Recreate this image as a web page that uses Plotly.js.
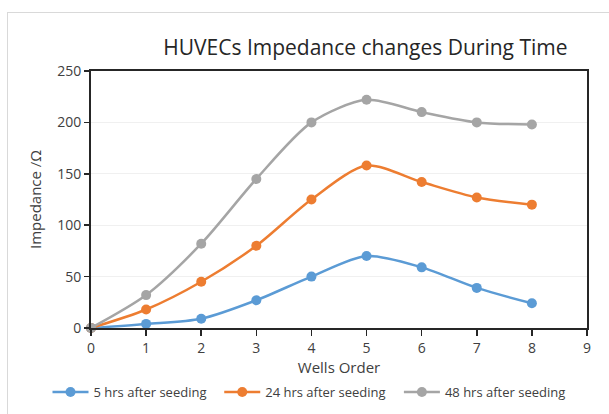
<!DOCTYPE html>
<html>
<head>
<meta charset="utf-8">
<script src="https://cdn.plot.ly/plotly-3.0.1.min.js"></script>
<style>
html,body{margin:0;padding:0;background:#fff;}
#frame{position:absolute;left:7px;top:12px;width:604px;height:410px;border:1px solid #d9d9d9;box-sizing:border-box;}
#chart{position:absolute;left:0;top:0;width:609px;height:414px;}
</style>
</head>
<body>
<div id="frame"></div>
<div id="chart"></div>
<script>
const wells = [0, 1, 2, 3, 4, 5, 6, 7, 8];
const hrs5 = [0, 4, 9, 27, 50, 70, 59, 39, 24];
const hrs24 = [0, 18, 45, 80, 125, 158, 142, 127, 120];
const hrs48 = [0, 32, 82, 145, 200, 222, 210, 200, 198];
const seriesNames = ["5 hrs after seeding", "24 hrs after seeding", "48 hrs after seeding"];
const colors = ["#5B9BD5", "#ED7D31", "#A5A5A5"];
const xTicks = [0,1,2,3,4,5,6,7,8,9];
const yTicks = [0,50,100,150,200,250];

const font = "Open Sans, Noto Sans, sans-serif";
const legendIds = ["legend", "legend2", "legend3"];
const legendX = [0.078, 0.36, 0.655];
function tr(y, i){
  return {x: wells, y: y, name: seriesNames[i], type: "scatter", mode: "lines+markers",
    line: {color: colors[i], width: 2.5, shape: "spline", smoothing: 0.8},
    marker: {color: colors[i], size: 10}, cliponaxis: false, legend: legendIds[i]};
}
const data = [tr(hrs5,0), tr(hrs24,1), tr(hrs48,2)];
function leg(i){
  return {orientation: "h", xref: "container", yref: "container", x: legendX[i], xanchor: "left", y: 0.053, yanchor: "middle",
    font: {size: 13, color: "#404040"}, itemwidth: 36, bgcolor: "rgba(0,0,0,0)"};
}
const layout = {
  width: 609, height: 414,
  paper_bgcolor: "rgba(0,0,0,0)", plot_bgcolor: "#fff",
  margin: {l: 91, r: 22, t: 71, b: 86, autoexpand: false},
  font: {family: font, color: "#404040", size: 14},
  title: {text: "HUVECs Impedance changes During Time", font: {size: 21, color: "#262626", family: font}, x: 0.6, xanchor: "center", y: 0.885, yanchor: "middle"},
  xaxis: {range: [0, 9], tickvals: xTicks, ticktext: xTicks.map(String), showgrid: false, zeroline: false,
    showline: true, linecolor: "#262626", linewidth: 2, mirror: true, ticks: "outside", ticklen: 6, tickwidth: 1.5, tickcolor: "#262626",
    title: {text: "Wells Order", font: {size: 15, color: "#404040"}, standoff: 8}},
  yaxis: {range: [0, 250], tickvals: yTicks, ticktext: yTicks.map(String), showgrid: true, gridcolor: "#f0f0f0", zeroline: false,
    showline: true, linecolor: "#262626", linewidth: 2, mirror: true, ticks: "outside", ticklen: 5, tickwidth: 1.5, tickcolor: "#262626",
    title: {text: "Impedance /Ω", font: {size: 15, color: "#404040"}, standoff: 12}},
  showlegend: true,
  legend: leg(0), legend2: leg(1), legend3: leg(2),
};
Plotly.newPlot("chart", data, layout, {displayModeBar: false, staticPlot: true});
</script>
</body>
</html>
